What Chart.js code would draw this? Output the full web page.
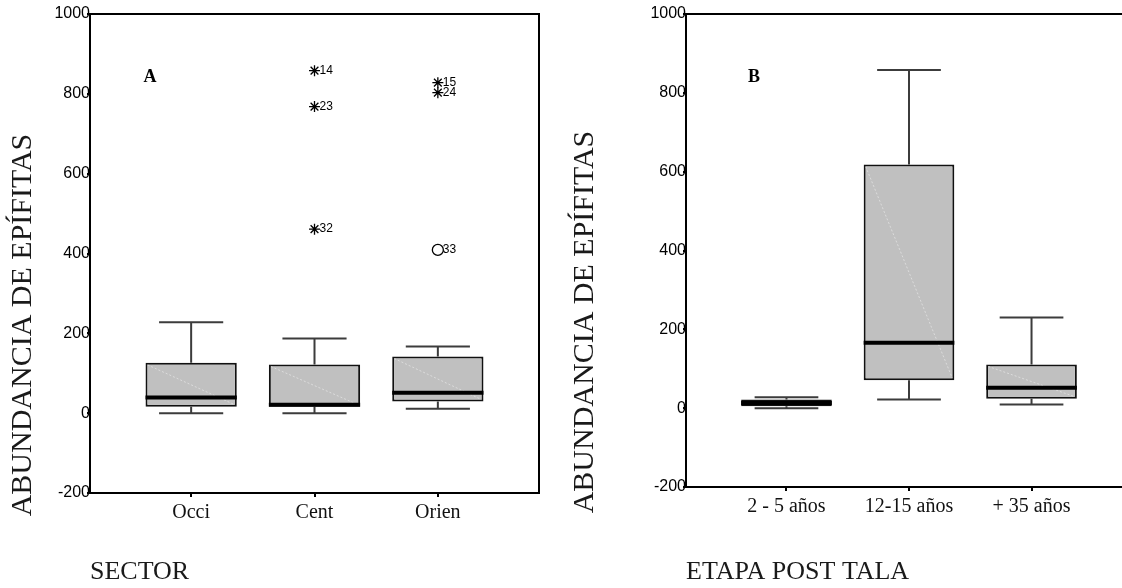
<!DOCTYPE html>
<html><head><meta charset="utf-8">
<script src="https://cdn.jsdelivr.net/npm/chart.js@4/dist/chart.umd.min.js"></script>
<style>
html,body{margin:0;padding:0;background:#fff;width:1122px;height:588px;overflow:hidden;position:relative}
#wa{position:absolute;left:0;top:0;width:560px;height:588px}
#wb{position:absolute;left:560px;top:0;width:600px;height:588px}
canvas{display:block}
</style></head><body>
<div id="wa"><canvas id="ca" width="560" height="588"></canvas></div>
<div id="wb"><canvas id="cb" width="600" height="588"></canvas></div>
<script>
// ---- Panel A: SECTOR ----
const sectorCats = ['Occi', 'Cent', 'Orien'];
const sectorMin = [0, 0, 11];
const sectorQ1 = [16, 16, 29];
const sectorMedian = [39, 21, 51];
const sectorQ3 = [126, 122, 142];
const sectorMax = [228, 187, 167];
const sectorExtremeCat = [1, 1, 1, 2, 2];
const sectorExtremeVal = [858, 768, 461, 828, 803];
const sectorExtremeId = ['14', '23', '32', '15', '24'];
const sectorOutlierCat = [2];
const sectorOutlierVal = [409];
const sectorOutlierId = ['33'];

// ---- Panel B: ETAPA POST TALA ----
const etapaCats = ['2 - 5 años', '12-15 años', '+ 35 años'];
const etapaMin = [0, 22, 9];
const etapaQ1 = [5, 71, 24];
const etapaMedian = [13, 166, 52];
const etapaQ3 = [22, 618, 111];
const etapaMax = [28, 858, 230];

const yTickValues = [-200, 0, 200, 400, 600, 800, 1000];
const yTitle = 'ABUNDANCIA DE EPÍFITAS';

function makeChart(canvas, d) {
  const decor = {
    id: 'boxDecor' + d.panel,
    beforeDatasetsDraw(chart) {
      const x = chart.scales.x, y = chart.scales.y, ctx = chart.ctx;
      const step = x.getPixelForValue(1) - x.getPixelForValue(0);
      const capHalf = step * 0.26;
      ctx.save();
      ctx.strokeStyle = '#3c3c3c';
      ctx.lineWidth = 2;
      d.cats.forEach((c, i) => {
        const cx = x.getPixelForValue(i);
        ctx.beginPath();
        ctx.moveTo(cx, y.getPixelForValue(d.q3[i]));
        ctx.lineTo(cx, y.getPixelForValue(d.max[i]));
        ctx.moveTo(cx, y.getPixelForValue(d.q1[i]));
        ctx.lineTo(cx, y.getPixelForValue(d.min[i]));
        ctx.moveTo(cx - capHalf, y.getPixelForValue(d.max[i]));
        ctx.lineTo(cx + capHalf, y.getPixelForValue(d.max[i]));
        ctx.moveTo(cx - capHalf, y.getPixelForValue(d.min[i]));
        ctx.lineTo(cx + capHalf, y.getPixelForValue(d.min[i]));
        ctx.stroke();
      });
      ctx.restore();
    },
    afterDatasetsDraw(chart) {
      const x = chart.scales.x, y = chart.scales.y, ctx = chart.ctx;
      const step = x.getPixelForValue(1) - x.getPixelForValue(0);
      const half = step * 0.37;
      ctx.save();
      d.cats.forEach((c, i) => {
        const cx = x.getPixelForValue(i);
        const yt = y.getPixelForValue(d.q3[i]), yb = y.getPixelForValue(d.q1[i]);
        // faint shading artefact
        ctx.strokeStyle = 'rgba(235,235,235,0.8)';
        ctx.lineWidth = 0.8;
        ctx.setLineDash([2, 2]);
        ctx.beginPath();
        ctx.moveTo(cx - half + 2, yt + 2);
        ctx.lineTo(cx + half - 2, yb - 2);
        ctx.stroke();
        ctx.setLineDash([]);
        // median
        ctx.strokeStyle = '#000';
        ctx.lineWidth = 4;
        const ym = y.getPixelForValue(d.med[i]);
        ctx.beginPath();
        ctx.moveTo(cx - half, ym);
        ctx.lineTo(cx + half, ym);
        ctx.stroke();
      });
      // case ids
      ctx.fillStyle = '#000';
      ctx.font = '12px "Liberation Sans", Arial, sans-serif';
      ctx.textAlign = 'left';
      ctx.textBaseline = 'middle';
      (d.extCat || []).forEach((c, i) => {
        ctx.fillText(d.extId[i], x.getPixelForValue(c) + 5, y.getPixelForValue(d.extVal[i]));
      });
      (d.outCat || []).forEach((c, i) => {
        ctx.fillText(d.outId[i], x.getPixelForValue(c) + 5, y.getPixelForValue(d.outVal[i]));
      });
      ctx.restore();
    },
    afterDraw(chart) {
      const ctx = chart.ctx, a = chart.chartArea;
      ctx.save();
      ctx.strokeStyle = '#000';
      ctx.lineWidth = 2;
      ctx.strokeRect(a.left, a.top, a.right - a.left, a.bottom - a.top);
      // panel letter
      ctx.fillStyle = '#000';
      ctx.font = 'bold 18px "Liberation Serif", "Times New Roman", serif';
      ctx.textAlign = 'center';
      ctx.textBaseline = 'middle';
      ctx.fillText(d.panel, a.left + d.letterDx, 77);
      // y title
      ctx.font = '30px "Liberation Serif", "Times New Roman", serif';
      ctx.fillStyle = '#1a1a1a';
      ctx.translate(d.yTitleX, d.yTitleY);
      ctx.rotate(-Math.PI / 2);
      ctx.fillText(yTitle, 0, 0);
      ctx.restore();
    }
  };

  const datasets = [{
    type: 'bar',
    data: d.cats.map((c, i) => ({x: i, y: [d.q1[i], d.q3[i]]})),
    backgroundColor: '#c0c0c0',
    borderColor: '#111',
    borderWidth: 2,
    borderSkipped: false,
    barPercentage: 0.74,
    categoryPercentage: 1.0
  }];
  if (d.extCat) datasets.push({
    type: 'scatter',
    data: d.extCat.map((c, i) => ({x: c, y: d.extVal[i]})),
    pointStyle: 'star', radius: 5.5, borderColor: '#000', borderWidth: 1.3, backgroundColor: '#000'
  });
  if (d.outCat) datasets.push({
    type: 'scatter',
    data: d.outCat.map((c, i) => ({x: c, y: d.outVal[i]})),
    pointStyle: 'circle', radius: 5.5, borderColor: '#000', borderWidth: 1.3, backgroundColor: 'rgba(255,255,255,0)'
  });

  return new Chart(canvas, {
    type: 'bar',
    data: {datasets},
    plugins: [decor],
    options: {
      responsive: false,
      animation: false,
      events: [],
      layout: {padding: {top: 14, right: d.padRight, left: 0, bottom: 0}},
      plugins: {legend: {display: false}, tooltip: {enabled: false}},
      scales: {
        x: {
          type: 'linear', min: -0.82, max: 2.82, offset: false,
          afterBuildTicks: s => { s.ticks = d.cats.map((c, i) => ({value: i})); },
          afterFit: s => { s.height = d.xHeight; },
          ticks: {
            autoSkip: false, maxRotation: 0, padding: 4, color: '#111',
            font: {family: '"Liberation Serif", "Times New Roman", serif', size: 20},
            callback: v => d.cats[v]
          },
          grid: {display: true, offset: false, drawOnChartArea: false, drawTicks: true, tickLength: 4, color: '#000', lineWidth: 2},
          border: {display: true, color: '#000', width: 2},
          title: {
            display: true, text: d.xTitle, align: 'start', color: '#1a1a1a',
            font: {family: '"Liberation Serif", "Times New Roman", serif', size: 26, lineHeight: 1.2},
            padding: {top: 0, bottom: 0}
          }
        },
        y: {
          type: 'linear', min: -200, max: 1000,
          afterBuildTicks: s => { s.ticks = yTickValues.map(v => ({value: v})); },
          afterFit: s => { s.width = d.yWidth; },
          ticks: {
            padding: -3, color: '#000',
            font: {family: '"Liberation Sans", Arial, sans-serif', size: 16},
            callback: v => String(v)
          },
          grid: {display: true, offset: false, drawOnChartArea: false, drawTicks: true, tickLength: 3, color: '#000', lineWidth: 2},
          border: {display: true, color: '#000', width: 2}
        }
      }
    }
  });
}

makeChart(document.getElementById('ca'), {
  panel: 'A', cats: sectorCats, min: sectorMin, q1: sectorQ1, med: sectorMedian, q3: sectorQ3, max: sectorMax,
  extCat: sectorExtremeCat, extVal: sectorExtremeVal, extId: sectorExtremeId,
  outCat: sectorOutlierCat, outVal: sectorOutlierVal, outId: sectorOutlierId,
  xTitle: 'SECTOR', yWidth: 90, xHeight: 95, padRight: 21, letterDx: 60,
  yTitleX: 23, yTitleY: 325
});
makeChart(document.getElementById('cb'), {
  panel: 'B', cats: etapaCats, min: etapaMin, q1: etapaQ1, med: etapaMedian, q3: etapaQ3, max: etapaMax,
  xTitle: 'ETAPA POST TALA', yWidth: 126, xHeight: 101, padRight: 28, letterDx: 68,
  yTitleX: 25, yTitleY: 322
});
</script>
</body></html>
